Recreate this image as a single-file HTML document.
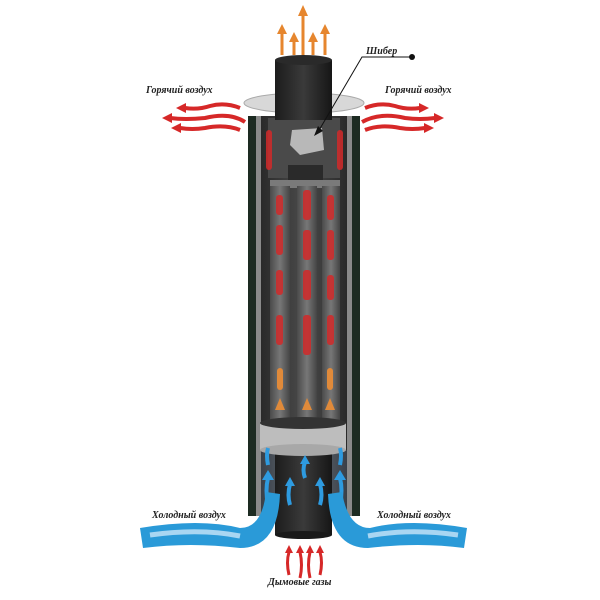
<!DOCTYPE html>
<html><head><meta charset="utf-8"><style>
html,body{margin:0;padding:0;background:#fff;width:600px;height:600px;overflow:hidden}
text{font-family:"Liberation Serif",serif;font-style:italic;font-weight:bold;font-size:10px;fill:#222}
</style></head><body>
<svg width="600" height="600" viewBox="0 0 600 600" xmlns="http://www.w3.org/2000/svg">
<defs>
<linearGradient id="pipe" x1="0" x2="1">
<stop offset="0" stop-color="#1c1c1c"/><stop offset="0.5" stop-color="#3a3a3a"/><stop offset="1" stop-color="#161616"/></linearGradient>
<linearGradient id="inner" x1="0" x2="1">
<stop offset="0" stop-color="#2a2a2a"/><stop offset="0.5" stop-color="#4a4a4a"/><stop offset="1" stop-color="#2a2a2a"/></linearGradient>
<linearGradient id="tube" x1="0" x2="1">
<stop offset="0" stop-color="#4a4a4a"/><stop offset="0.5" stop-color="#777"/><stop offset="1" stop-color="#444"/></linearGradient>
<linearGradient id="low" x1="0" x2="1">
<stop offset="0" stop-color="#3a4048"/><stop offset="0.5" stop-color="#6a737c"/><stop offset="1" stop-color="#3a4048"/></linearGradient>
</defs>
<!-- casing -->
<rect x="248" y="116" width="112" height="400" fill="#1d2b22"/>
<rect x="256" y="116" width="96" height="400" fill="#8a8a8a"/>
<rect x="261" y="116" width="86" height="400" fill="url(#inner)"/>
<rect x="261" y="450" width="86" height="66" fill="url(#low)"/>
<!-- upper block -->
<rect x="268" y="118" width="72" height="60" fill="#4a4a4a"/>
<rect x="288" y="165" width="35" height="20" fill="#2a2a2a"/>
<rect x="270" y="180" width="70" height="8" fill="#7a7a7a"/>
<!-- tubes -->
<rect x="270" y="186" width="20" height="234" fill="url(#tube)"/>
<rect x="297" y="186" width="20" height="234" fill="url(#tube)"/>
<rect x="322" y="186" width="18" height="234" fill="url(#tube)"/>
<g fill="#d22a2a" opacity="0.85">
<rect x="276" y="195" width="7" height="20" rx="3"/><rect x="276" y="225" width="7" height="30" rx="3"/><rect x="276" y="270" width="7" height="25" rx="3"/><rect x="276" y="315" width="7" height="30" rx="3"/>
<rect x="303" y="190" width="8" height="30" rx="3"/><rect x="303" y="230" width="8" height="30" rx="3"/><rect x="303" y="270" width="8" height="30" rx="3"/><rect x="303" y="315" width="8" height="40" rx="3"/>
<rect x="327" y="195" width="7" height="25" rx="3"/><rect x="327" y="230" width="7" height="30" rx="3"/><rect x="327" y="275" width="7" height="25" rx="3"/><rect x="327" y="315" width="7" height="30" rx="3"/>
<rect x="266" y="130" width="6" height="40" rx="3"/><rect x="337" y="130" width="6" height="40" rx="3"/>
</g>
<g fill="#e08a3a">
<rect x="277" y="368" width="6" height="22" rx="3"/><rect x="327" y="368" width="6" height="22" rx="3"/>
<polygon points="275,410 280,398 285,410"/><polygon points="302,410 307,398 312,410"/><polygon points="325,410 330,398 335,410"/>
</g>
<polygon points="292,130 322,128 324,150 300,155 290,145" fill="#b8b8b8"/>
<!-- top flange and pipe -->
<ellipse cx="304" cy="103" rx="60" ry="10" fill="#d8d8d8" stroke="#aaa"/>
<rect x="275" y="60" width="57" height="60" fill="url(#pipe)"/>
<ellipse cx="303.5" cy="60" rx="28.5" ry="5" fill="#2a2a2a"/>
<!-- collar and bottom pipe -->
<rect x="275" y="440" width="57" height="95" fill="url(#pipe)"/>
<ellipse cx="303.5" cy="535" rx="28.5" ry="4" fill="#1a1a1a"/>
<rect x="260" y="423" width="86" height="27" fill="#bdbdbd"/>
<ellipse cx="303" cy="423" rx="43" ry="6" fill="#333"/>
<ellipse cx="303" cy="450" rx="43" ry="6" fill="#a8a8a8"/>
<!-- orange top arrows -->
<g fill="none" stroke="#e6862e" stroke-width="3">
<path d="M282 55 V32"/><path d="M294 55 V40"/><path d="M303 55 V14"/><path d="M313 55 V40"/><path d="M325 55 V32"/>
</g>
<g fill="#e6862e">
<polygon points="277,34 282,24 287,34"/><polygon points="289,42 294,32 299,42"/><polygon points="298,16 303,5 308,16"/><polygon points="308,42 313,32 318,42"/><polygon points="320,34 325,24 330,34"/>
</g>
<!-- hot air arrows -->
<g stroke="#d62828" stroke-width="4" fill="none">
<path d="M240 108 Q225 102 210 106 Q198 110 185 108"/><path d="M245 122 Q230 112 205 118 Q185 120 170 118"/><path d="M240 130 Q225 124 205 128 Q192 130 180 128"/>
<path d="M365 108 Q380 102 395 106 Q407 110 420 108"/><path d="M362 122 Q380 112 405 118 Q420 120 435 118"/><path d="M365 130 Q380 124 400 128 Q412 130 425 128"/>
</g>
<g fill="#d62828">
<polygon points="186,103 176,108 186,113"/><polygon points="172,113 162,118 172,123"/><polygon points="181,123 171,128 181,133"/>
<polygon points="419,103 429,108 419,113"/><polygon points="434,113 444,118 434,123"/><polygon points="424,123 434,128 424,133"/>
</g>
<!-- blue arrows inside -->
<g stroke="#2e9be0" stroke-width="4" fill="none">
<path d="M268 505 Q265 490 268 478"/><path d="M340 505 Q343 490 340 478"/><path d="M290 505 Q287 495 290 484"/><path d="M320 505 Q323 495 320 484"/><path d="M305 478 Q302 470 305 462"/>
<path d="M268 465 Q266 455 268 448"/><path d="M340 465 Q342 455 340 448"/>
</g>
<g fill="#2e9be0">
<polygon points="262,480 268,470 274,480"/><polygon points="334,480 340,470 346,480"/><polygon points="285,486 290,477 295,486"/><polygon points="315,486 320,477 325,486"/><polygon points="300,464 305,455 310,464"/>
</g>
<!-- cold air streams -->
<path d="M140 528 Q200 518 240 528 Q262 528 266 492 L280 494 Q278 548 240 548 Q190 542 143 548 Z" fill="#2a9ad8"/>
<path d="M150 535 Q200 528 240 536" stroke="#a9d6f2" stroke-width="5" fill="none"/>
<path d="M467 528 Q410 518 370 528 Q348 528 342 492 L328 494 Q330 548 368 548 Q420 542 464 548 Z" fill="#2a9ad8"/>
<path d="M458 535 Q410 528 368 536" stroke="#a9d6f2" stroke-width="5" fill="none"/>
<!-- smoke arrows -->
<g stroke="#d62828" stroke-width="3" fill="none">
<path d="M289 575 Q286 562 289 552"/><path d="M300 578 Q303 565 300 552"/><path d="M310 578 Q307 565 310 552"/><path d="M320 575 Q323 562 320 552"/>
</g>
<g fill="#d62828">
<polygon points="285,553 289,545 293,553"/><polygon points="296,553 300,545 304,553"/><polygon points="306,553 310,545 314,553"/><polygon points="316,553 320,545 324,553"/>
</g>
<!-- shiber pointer -->
<path d="M412 57 H362 L318 132" stroke="#111" stroke-width="1" fill="none"/>
<circle cx="412" cy="57" r="3" fill="#111"/>
<polygon points="314,136 318,126 323,131" fill="#111"/>
<text x="366" y="54">Шибер</text>
<text x="146" y="93">Горячий воздух</text>
<text x="385" y="93">Горячий воздух</text>
<text x="152" y="518">Холодный воздух</text>
<text x="377" y="518">Холодный воздух</text>
<text x="268" y="585">Дымовые газы</text>
</svg>
</body></html>
